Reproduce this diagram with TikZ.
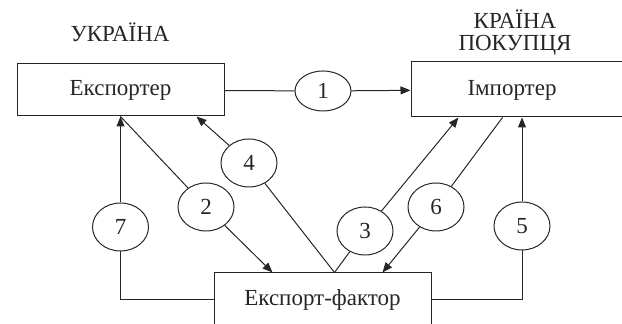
\documentclass[tikz,border=0pt]{standalone}
\usepackage{fontspec}
\setmainfont{Liberation Serif}
\usetikzlibrary{shapes.geometric,arrows.meta}

\tikzset{
    box/.style={draw, rectangle, minimum width=103.5pt, minimum height=26pt, inner sep=0pt},
    oval/.style={draw, ellipse, minimum width=28pt, minimum height=24pt, inner sep=0pt},
    arr/.style={-{Triangle[length=5pt,width=4pt]}}
}

\begin{document}
\begin{tikzpicture}[x=0.5pt,y=-0.5pt, line width=0.5pt, draw=black!85, text=black!85,
        font=\fontsize{11.5}{11}\selectfont]
        \useasboundingbox (0,0) rectangle (622,324);
        \clip (0,0) rectangle (622,324);

        % Disegna le scritte dei paesi
        \node (ua) at (120,32) {УКРАЇНА};
        \node[align=center] (buyer) at (515,33) {КРАЇНА\\ПОКУПЦЯ};

        % Disegna i rettangoli
        \node[box] (exp) at (120.5,90) {Експортер};
        \node[box, minimum width=114.5pt, minimum height=27.5pt] (imp) at (525.5,89.5) {};
        \node (imptext) at (512,90) {Імпортер}; % testo dell'importatore
        \node[box, minimum width=108.5pt, minimum height=27pt] (fac) at (322.5,300) {Експорт-фактор};

        % Disegna gli ovali numerati
        \node[oval, minimum height=20pt] (c1) at (323,91) {1};
        \node[oval] (c2) at (206,207) {2};
        \node[oval] (c3) at (365,231) {3};
        \node[oval] (c4) at (249,163) {4};
        \node[oval] (c5) at (522,226) {5};
        \node[oval] (c6) at (436,207) {6};
        \node[oval] (c7) at (120.5,227) {7};

        % Punti sui bordi dei rettangoli
        \coordinate (e4) at ([xshift=90pt]exp.south west);
        \coordinate (i3) at ([xshift=24pt]imp.south west);
        \coordinate (i6) at ([xshift=46pt]imp.south west);
        \coordinate (f2) at ([xshift=29.5pt]fac.north west);
        \coordinate (ftop) at ([xshift=60.5pt]fac.north west);
        \coordinate (f6) at ([xshift=84.5pt]fac.north west);

        % Disegna i collegamenti
        \draw (exp) -- (c1);
        \draw[arr] (c1) -- (imp);
        \draw (exp.south) -- (c2);
        \draw[arr] (c2) -- (f2);
        \draw (ftop) -- (c3);
        \draw[arr] (c3) -- (i3);
        \draw (ftop) -- (c4);
        \draw[arr] (c4) -- (e4);
        \draw (fac.east) -| (c5);
        \draw[arr] (c5) -- (c5 |- imp.south);
        \draw (i6) -- (c6);
        \draw[arr] (c6) -- (f6);
        \draw (fac.west) -| (c7);
        \draw[arr] (c7) -- (exp.south);
\end{tikzpicture}
\end{document}
